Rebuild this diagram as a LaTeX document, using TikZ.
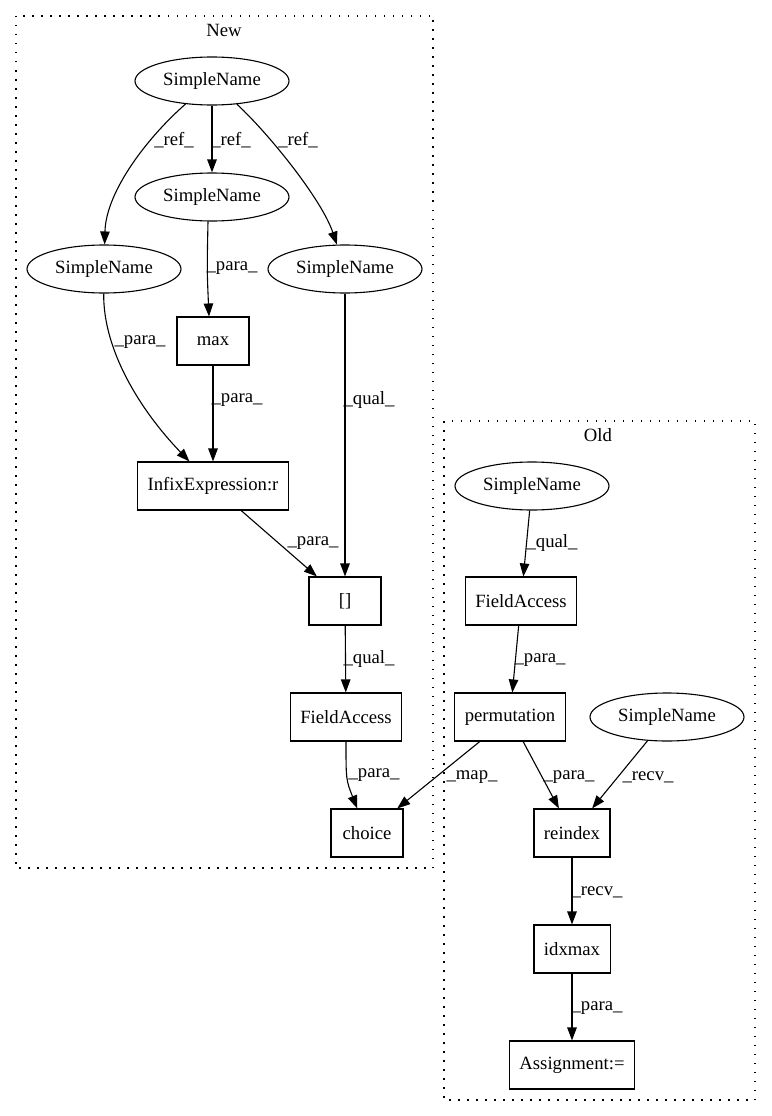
\documentclass[tikz,border=0pt]{standalone}
\usepackage{fontspec}
\setmainfont{Liberation Serif}
\usetikzlibrary{shapes.geometric, arrows.meta}

\begin{document}
\begin{tikzpicture}[x=1pt, y=-1pt, font=\fontsize{18.7}{22}\selectfont, every node/.style={inner sep=0pt}, sname/.style={ellipse, draw, line width=1.1pt, minimum width=154pt, minimum height=48pt}, ast/.style={rectangle, draw, line width=1.1pt, minimum width=72pt, minimum height=48pt, inner xsep=10pt}, flow/.style={-{Triangle[length=13pt,width=9.5pt]}, line width=1.1pt}, cluster/.style={draw, line width=1.3pt, dash pattern=on 1.5pt off 7.5pt}]
  \useasboundingbox (0,0) rectangle (771,1116);
  % clusters
  \draw[cluster] (16,16) rectangle (433,868);
  \draw[cluster] (444,421) rectangle (755,1100);
  \node (newTitle) at (224,30) {New};
  \node (oldTitle) at (598,435) {Old};
  % New
  \node[sname] (snTop) at (212,81) {SimpleName};
  \node[sname] (snMid) at (212,197) {SimpleName};
  \node[sname] (snLeft) at (104,269) {SimpleName};
  \node[sname] (snRight) at (345,269) {SimpleName};
  \node[ast] (max) at (213,341) {max};
  \node[ast] (infix) at (213,486) {InfixExpression:r};
  \node[ast] (index) at (345,601) {[]};
  \node[ast] (faNew) at (346,717) {FieldAccess};
  \node[ast] (choice) at (367,833) {choice};
  % Old
  \node[sname] (snOld) at (532,486) {SimpleName};
  \node[ast] (faOld) at (521,601) {FieldAccess};
  \node[ast] (perm) at (510,717) {permutation};
  \node[sname] (snRecv) at (667,717) {SimpleName};
  \node[ast] (reindex) at (572,833) {reindex};
  \node[ast] (idxmax) at (572,949) {idxmax};
  \node[ast] (assign) at (572,1065) {Assignment:=};
  % edges
  \draw[flow] (snTop) .. controls (150,135) and (106,190) .. (snLeft);
  \draw[flow] (snTop) -- (snMid);
  \draw[flow] (snTop) .. controls (270,135) and (322,200) .. (snRight);
  \draw[flow] ([xshift=-4pt]snMid.south) .. controls (207,270) .. ([xshift=-4pt]max.north);
  \draw[flow] (snLeft) .. controls (103,350) and (140,410) .. (infix);
  \draw[flow] (max) -- (infix);
  \draw[flow] (snRight) -- (index);
  \draw[flow] (infix) -- (index);
  \draw[flow] (index) -- (faNew);
  \draw[flow] (faNew) .. controls (346,780) .. (choice);
  \draw[flow] (perm) -- (choice);
  \draw[flow] (snOld) -- (faOld);
  \draw[flow] (faOld) -- (perm);
  \draw[flow] (perm) -- (reindex);
  \draw[flow] (snRecv) -- (reindex);
  \draw[flow] (reindex) -- (idxmax);
  \draw[flow] (idxmax) -- (assign);
  % edge labels
  \node (l1) at (174,140) {\_ref\_};
  \node (l2) at (231,140) {\_ref\_};
  \node (l3) at (298,140) {\_ref\_};
  \node (l4) at (232,268) {\_para\_};
  \node (l5) at (140,342) {\_para\_};
  \node (l6) at (237,400) {\_para\_};
  \node (l7) at (369,400) {\_qual\_};
  \node (l8) at (313,543) {\_para\_};
  \node (l9) at (369,659) {\_qual\_};
  \node (l10) at (374,775) {\_para\_};
  \node (l11) at (472,777) {\_map\_};
  \node (l12) at (569,777) {\_para\_};
  \node (l13) at (648,777) {\_recv\_};
  \node (l14) at (552,543) {\_qual\_};
  \node (l15) at (540,660) {\_para\_};
  \node (l16) at (597,892) {\_recv\_};
  \node (l17) at (597,1008) {\_para\_};
\end{tikzpicture}
\end{document}
